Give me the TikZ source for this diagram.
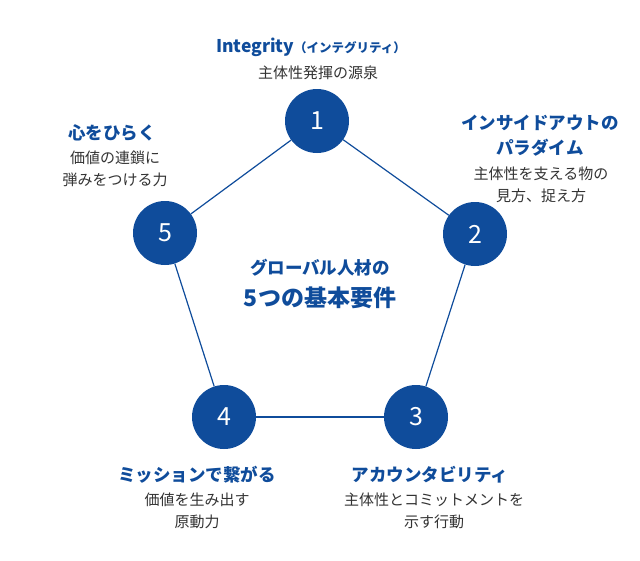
\documentclass[tikz,border=0pt]{standalone}
\usepackage{fontspec}
\setmainfont{Noto Sans CJK JP}
\usetikzlibrary{positioning}
\definecolor{mainblue}{HTML}{0F4C9B}
\definecolor{bodytext}{HTML}{333333}
\tikzset{
  pillar/.style={
    circle, fill=mainblue, minimum size=64pt, inner sep=0pt,
    text=white, font=\fontsize{25}{25}\selectfont,
  },
  link/.style={draw=mainblue, line width=1.2pt},
  heading/.style={
    text=mainblue, align=center, inner sep=0pt,
    font=\fontsize{17.5}{25}\selectfont\bfseries,
  },
  desc/.style={
    text=bodytext, align=center, inner sep=0pt,
    font=\fontsize{15}{22}\selectfont,
  },
}

\begin{document}
\begin{tikzpicture}[x=1pt, y=-1pt]

  \useasboundingbox (0,0) rectangle (640,560);

  % the five pillars
  \node[pillar] (c1) at (317,121) {1};
  \node[pillar] (c2) at (475,234) {2};
  \node[pillar] (c3) at (416,417) {3};
  \node[pillar] (c4) at (224,417) {4};
  \node[pillar] (c5) at (165,233) {5};

  % labels
  \node[heading] (h1) at (311,47) {Integrity{\fontsize{12.5}{12.5}\selectfont（インテグリティ）}};
  \node[desc] (d1) at (318,73) {主体性発揮の源泉};
  \node[heading] (h2) at (540,136) {インサイドアウトの\\パラダイム};
  \node[desc] (d2) at (541,185) {主体性を支える物の\\見方、捉え方};
  \node[heading] (h3) at (430,475) {アカウンタビリティ};
  \node[desc] (d3) at (434,511) {主体性とコミットメントを\\示す行動};
  \node[heading] (h4) at (197,475) {ミッションで繋がる};
  \node[desc] (d4) at (197,511) {価値を生み出す\\原動力};
  \node[heading] (h5) at (112,133) {心をひらく};
  \node[desc] (d5) at (115,169) {価値の連鎖に\\弾みをつける力};

  \node[heading] (ttl) at (320,268) {グローバル人材の};
  \node[heading, font=\fontsize{23}{23}\selectfont\bfseries] (sub) at (320,298) {5つの基本要件};

  \draw[link] (c1) -- (c2);
  \draw[link] (c2) -- (c3);
  \draw[link] (c3) -- (c4);
  \draw[link] (c4) -- (c5);
  \draw[link] (c5) -- (c1);

\end{tikzpicture}
\end{document}
